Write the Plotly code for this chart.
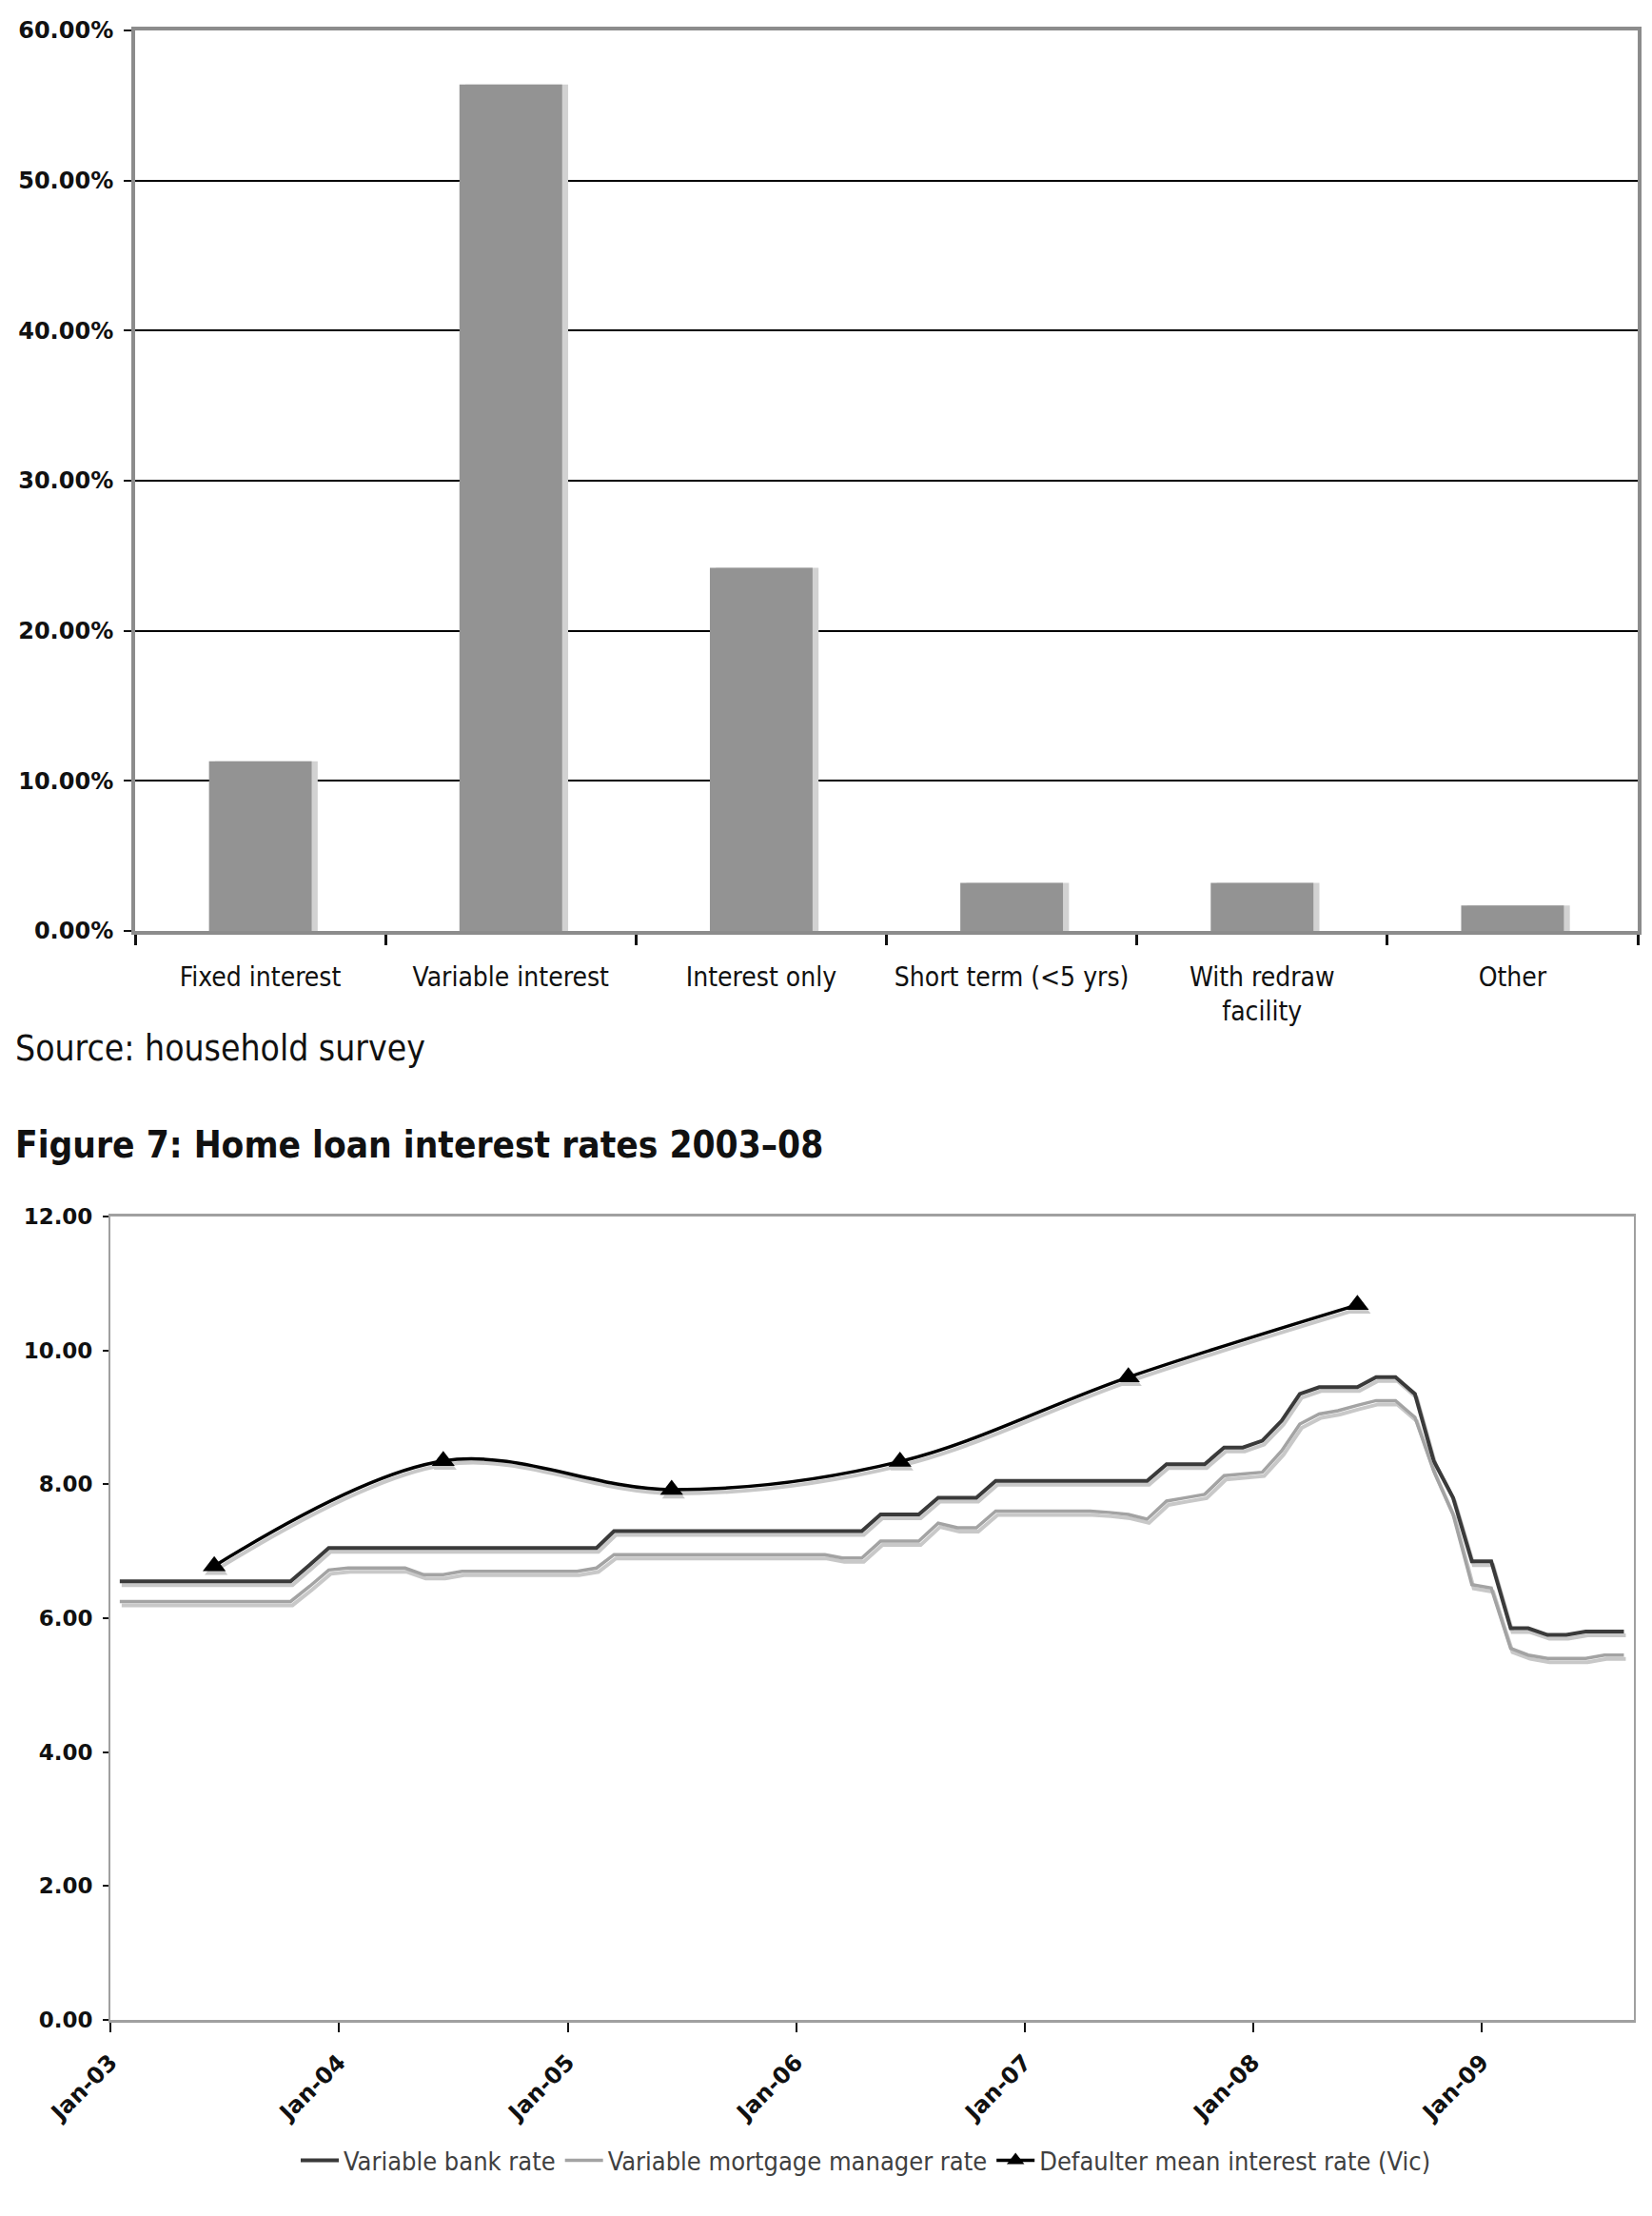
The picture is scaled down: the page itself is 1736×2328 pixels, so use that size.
import pandas as pd
import plotly.graph_objects as go

W, H = 1736, 2328
PAGE_PAD = 8  # body margin of the html page
FONT = "DejaVu Sans Condensed, DejaVu Sans, sans-serif"

# --- top chart: share of home loans by type (household survey)
loan_types = ["Fixed interest", "Variable interest", "Interest only",
              "Short term (<5 yrs)", "With redraw facility", "Other"]
loan_labels = ["Fixed interest", "Variable interest", "Interest only",
               "Short term (&lt;5 yrs)", "With redraw<br>facility", "Other"]
loan_share = [0.113, 0.564, 0.242, 0.032, 0.032, 0.017]

# --- Figure 7: monthly home loan rates, Jan-03 .. Aug-09 (points sit mid-month)
rate_months = pd.date_range("2003-01-01", "2009-08-01", freq="MS") + pd.Timedelta(days=15)
bank_rate = [
    6.55, 6.55, 6.55, 6.55, 6.55, 6.55, 6.55, 6.55, 6.55, 6.55, 6.80, 7.05,  # 2003
    7.05, 7.05, 7.05, 7.05, 7.05, 7.05, 7.05, 7.05, 7.05, 7.05, 7.05, 7.05,  # 2004
    7.05, 7.05, 7.30, 7.30, 7.30, 7.30, 7.30, 7.30, 7.30, 7.30, 7.30, 7.30,  # 2005
    7.30, 7.30, 7.30, 7.30, 7.55, 7.55, 7.55, 7.80, 7.80, 7.80, 8.05, 8.05,  # 2006
    8.05, 8.05, 8.05, 8.05, 8.05, 8.05, 8.05, 8.30, 8.30, 8.30, 8.55, 8.55,  # 2007
    8.65, 8.95, 9.35, 9.45, 9.45, 9.45, 9.60, 9.60, 9.35, 8.35, 7.80, 6.85,  # 2008
    6.85, 5.85, 5.85, 5.75, 5.75, 5.80, 5.80, 5.80,                          # 2009
]
manager_rate = [
    6.25, 6.25, 6.25, 6.25, 6.25, 6.25, 6.25, 6.25, 6.25, 6.25, 6.48, 6.72,
    6.75, 6.75, 6.75, 6.75, 6.65, 6.65, 6.70, 6.70, 6.70, 6.70, 6.70, 6.70,
    6.70, 6.75, 6.95, 6.95, 6.95, 6.95, 6.95, 6.95, 6.95, 6.95, 6.95, 6.95,
    6.95, 6.95, 6.90, 6.90, 7.15, 7.15, 7.15, 7.42, 7.35, 7.35, 7.60, 7.60,
    7.60, 7.60, 7.60, 7.60, 7.58, 7.55, 7.48, 7.75, 7.80, 7.85, 8.13, 8.15,
    8.18, 8.50, 8.90, 9.05, 9.10, 9.18, 9.25, 9.25, 9.00, 8.20, 7.55, 6.50,
    6.45, 5.55, 5.45, 5.40, 5.40, 5.40, 5.45, 5.45,
]
defaulter_dates = ["2003-06-16", "2004-06-16", "2005-06-16",
                   "2006-06-16", "2007-06-16", "2008-06-16"]
defaulter_rate = [6.78, 8.35, 7.92, 8.34, 9.60, 10.68]


def px_x(px):
    return (px - PAGE_PAD) / W


def px_y(py):
    return 1 - (py - PAGE_PAD) / H


fig = go.Figure()

# bar shadow sits a few px to the right, under the bar
fig.add_trace(go.Bar(x=loan_types, y=loan_share, width=0.41, offset=-0.205 + 0.024,
                     marker=dict(color="#d2d2d2", line_width=0),
                     showlegend=False, hoverinfo="skip", xaxis="x", yaxis="y"))
fig.add_trace(go.Bar(x=loan_types, y=loan_share, width=0.41, offset=-0.205,
                     marker=dict(color="#939393", line_width=0),
                     showlegend=False, xaxis="x", yaxis="y"))

# line shadows drawn on a slightly shifted copy of the axes
shadow = dict(color="#c8c8c8", width=4)
fig.add_trace(go.Scatter(x=rate_months, y=bank_rate, mode="lines", line=shadow,
                         showlegend=False, hoverinfo="skip", xaxis="x2", yaxis="y2"))
fig.add_trace(go.Scatter(x=rate_months, y=manager_rate, mode="lines", line=shadow,
                         showlegend=False, hoverinfo="skip", xaxis="x2", yaxis="y2"))
fig.add_trace(go.Scatter(x=defaulter_dates, y=defaulter_rate, mode="lines+markers",
                         line=dict(color="#c8c8c8", width=4, shape="spline", smoothing=1.0),
                         marker=dict(symbol="triangle-up", size=21, color="#c8c8c8"),
                         showlegend=False, hoverinfo="skip", xaxis="x2", yaxis="y2"))

fig.add_trace(go.Scatter(x=rate_months, y=bank_rate, mode="lines", name="Variable bank rate",
                         line=dict(color="#3a3a3a", width=4), xaxis="x3", yaxis="y3"))
fig.add_trace(go.Scatter(x=rate_months, y=manager_rate, mode="lines",
                         name="Variable mortgage manager rate",
                         line=dict(color="#a3a3a3", width=3.5), xaxis="x3", yaxis="y3"))
fig.add_trace(go.Scatter(x=defaulter_dates, y=defaulter_rate, mode="lines+markers",
                         name="Defaulter mean interest rate (Vic)",
                         line=dict(color="#000000", width=3.5, shape="spline", smoothing=1.0),
                         marker=dict(symbol="triangle-up", size=21, color="#000000"),
                         xaxis="x3", yaxis="y3"))

bold_tick = dict(family="DejaVu Sans, sans-serif", size=23, color="#111111", weight="bold")

# chart 2 geometry (px)
c2_l, c2_r, c2_t, c2_b = 116, 1717, 1278, 2122
sh_dx, sh_dy = 2, 4
x_range = ["2003-01-01", "2009-09-01"]

fig.update_layout(
    width=W, height=H, autosize=False,
    margin=dict(l=0, r=0, t=0, b=0, pad=0),
    paper_bgcolor="white", plot_bgcolor="rgba(0,0,0,0)",
    font=dict(family=FONT, color="#111111"),
    barmode="overlay",
    xaxis=dict(
        domain=[px_x(142), px_x(1721)], anchor="y", automargin=False,
        tickmode="array", tickvals=loan_types, ticktext=loan_labels,
        tickson="boundaries", ticks="outside", ticklen=11, tickwidth=3, tickcolor="#111111",
        showline=True, linecolor="#8c8c8c", linewidth=4, mirror=True,
        showgrid=False, ticklabelstandoff=20,
        tickfont=dict(family=FONT, size=28, color="#111111"),
    ),
    yaxis=dict(
        domain=[px_y(978), px_y(32)], anchor="x", automargin=False,
        range=[0, 0.6], dtick=0.1, tickformat=".2%",
        showgrid=True, gridcolor="#000000", gridwidth=2, zeroline=False,
        showline=True, linecolor="#8c8c8c", linewidth=4, mirror=True,
        ticks="outside", ticklen=8, tickwidth=2, tickcolor="#111111",
        ticklabelstandoff=6, tickfont=dict(bold_tick, size=24),
    ),
    xaxis2=dict(
        domain=[px_x(c2_l + sh_dx), px_x(c2_r + sh_dx)], anchor="y2", automargin=False,
        type="date", range=x_range, visible=False,
    ),
    yaxis2=dict(
        domain=[px_y(c2_b + sh_dy), px_y(c2_t + sh_dy)], anchor="x2", automargin=False,
        range=[0, 12], visible=False,
    ),
    xaxis3=dict(
        domain=[px_x(c2_l), px_x(c2_r)], anchor="y3", automargin=False,
        type="date", range=x_range, tick0="2003-01-01", dtick="M12", tickformat="%b-%y",
        tickangle=-45, ticks="outside", ticklen=10, tickwidth=2, tickcolor="#111111",
        showline=True, linecolor="#a0a0a0", linewidth=3, mirror=True,
        showgrid=False, ticklabelstandoff=8, tickfont=dict(bold_tick, size=24),
    ),
    yaxis3=dict(
        domain=[px_y(c2_b), px_y(c2_t)], anchor="x3", automargin=False,
        range=[0, 12], dtick=2, tickformat=".2f",
        showgrid=False, zeroline=False,
        showline=True, linecolor="#a0a0a0", linewidth=2, mirror=True,
        ticks="outside", ticklen=6, tickwidth=2, tickcolor="#111111",
        ticklabelstandoff=6, tickfont=bold_tick,
    ),
    legend=dict(
        orientation="h", x=px_x(910), xanchor="center", y=px_y(2270), yanchor="middle",
        font=dict(family=FONT, size=27, color="#404040"),
        bgcolor="rgba(0,0,0,0)", itemwidth=40, tracegroupgap=0,
    ),
    annotations=[
        dict(text="Source: household survey", xref="paper", yref="paper",
             x=px_x(14), y=px_y(1101), xanchor="left", yanchor="middle",
             showarrow=False, font=dict(family=FONT, size=37, color="#111111")),
        dict(text="<b>Figure 7: Home loan interest rates 2003–08</b>", xref="paper", yref="paper",
             x=px_x(14), y=px_y(1202), xanchor="left", yanchor="middle",
             showarrow=False, font=dict(family=FONT, size=38.5, color="#111111")),
    ],
)

fig.write_html("out.html")
